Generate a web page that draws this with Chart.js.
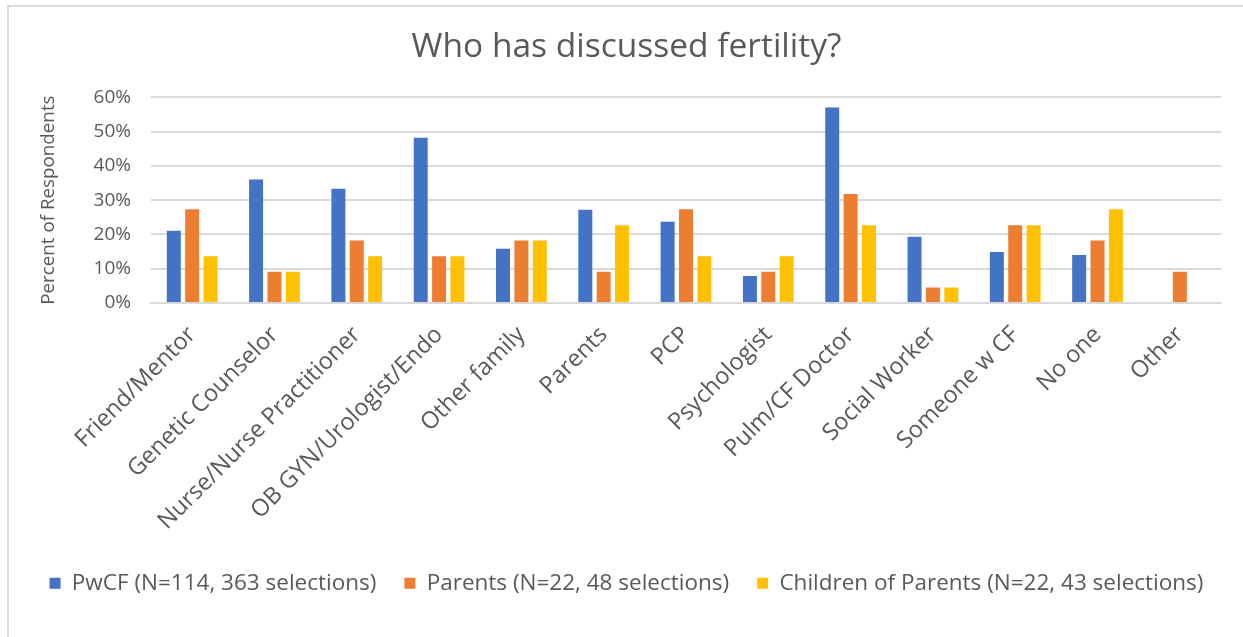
<!DOCTYPE html>
<html>
<head>
    <title>Who has discussed fertility?</title>
    <script src="https://cdn.jsdelivr.net/npm/chart.js"></script>
    <style>
        body { margin: 0; background: #fff; }
    </style>
</head>
<body>
    <canvas id="fertility" width="1243" height="637"></canvas>
</body>
<script>
    const categories = ['Friend/Mentor', 'Genetic Counselor', 'Nurse/Nurse Practitioner', 'OB GYN/Urologist/Endo',
        'Other family', 'Parents', 'PCP', 'Psychologist', 'Pulm/CF Doctor', 'Social Worker', 'Someone w CF', 'No one', 'Other']
    // percent of respondents per group
    const pwcf = [21.1, 36.0, 33.3, 48.2, 15.8, 27.2, 23.7, 7.9, 57.0, 19.3, 14.9, 14.0, 0]
    const parents = [27.3, 9.1, 18.2, 13.6, 18.2, 9.1, 27.3, 9.1, 31.8, 4.5, 22.7, 18.2, 9.1]
    const children = [13.6, 9.1, 13.6, 13.6, 18.2, 22.7, 13.6, 13.6, 22.7, 4.5, 22.7, 27.3, 0]
    const seriesNames = ['PwCF (N=114, 363 selections)', 'Parents (N=22, 48 selections)', 'Children of Parents (N=22, 43 selections)']
    const yTicks = [0, 10, 20, 30, 40, 50, 60]

    const textColor = '#595959'
    const gridColor = '#d9d9d9'
    const font = 'Open Sans'

    // light frame round the whole chart
    const frame = {
        id: 'frame',
        beforeDraw(chart) {
            const ctx = chart.ctx
            ctx.save()
            ctx.fillStyle = '#fff'
            ctx.fillRect(0, 0, chart.width, chart.height)
            ctx.strokeStyle = gridColor
            ctx.lineWidth = 2
            ctx.strokeRect(8, 6, chart.width + 20, chart.height + 20)
            ctx.restore()
        }
    }

    function dataset(label, data, color) {
        return {
            label: label,
            data: data,
            backgroundColor: color,
            borderColor: color,
            borderWidth: 0,
            categoryPercentage: 0.67,
            barPercentage: 0.76
        }
    }

    new Chart(document.getElementById('fertility'), {
        type: 'bar',
        data: {
            labels: categories,
            datasets: [
                dataset(seriesNames[0], pwcf, '#4472C4'),
                dataset(seriesNames[1], parents, '#ED7D31'),
                dataset(seriesNames[2], children, '#FFC000')
            ]
        },
        plugins: [frame],
        options: {
            responsive: false,
            animation: false,
            layout: { padding: { left: 10, right: 0, top: 27.5, bottom: 32.5 } },
            plugins: {
                title: {
                    display: true,
                    text: 'Who has discussed fertility?',
                    color: textColor,
                    font: { family: font, size: 33.5, weight: 'normal' },
                    padding: { top: 0, bottom: 29.5 }
                },
                legend: {
                    position: 'bottom',
                    labels: {
                        color: textColor,
                        font: { family: font, size: 22.5 },
                        boxWidth: 11,
                        boxHeight: 11,
                        padding: 28
                    }
                },
                tooltip: { enabled: false }
            },
            scales: {
                x: {
                    grid: { display: false },
                    border: { color: gridColor, width: 2 },
                    ticks: {
                        color: textColor,
                        font: { family: font, size: 23.5 },
                        minRotation: 45,
                        maxRotation: 45,
                        padding: 10
                    },
                    afterFit(scale) { scale.height = 241 }
                },
                y: {
                    min: 0,
                    max: 60,
                    afterBuildTicks(scale) { scale.ticks = yTicks.map(v => ({ value: v })) },
                    grid: { color: gridColor, lineWidth: 2, drawTicks: false },
                    border: { display: false },
                    ticks: {
                        color: textColor,
                        font: { family: font, size: 19 },
                        padding: 20,
                        autoSkip: false,
                        callback: v => v + '%'
                    },
                    title: {
                        display: true,
                        text: 'Percent of Respondents',
                        color: textColor,
                        font: { family: font, size: 18.8 },
                        padding: { top: 27.7, bottom: 0 }
                    },
                    afterFit(scale) { scale.width = 141 }
                },
                // empty strip keeping the plot clear of the right edge
                yRight: {
                    position: 'right',
                    grid: { display: false },
                    border: { display: false },
                    ticks: { display: false },
                    afterFit(scale) { scale.width = 22 }
                }
            }
        }
    })
</script>
</html>
